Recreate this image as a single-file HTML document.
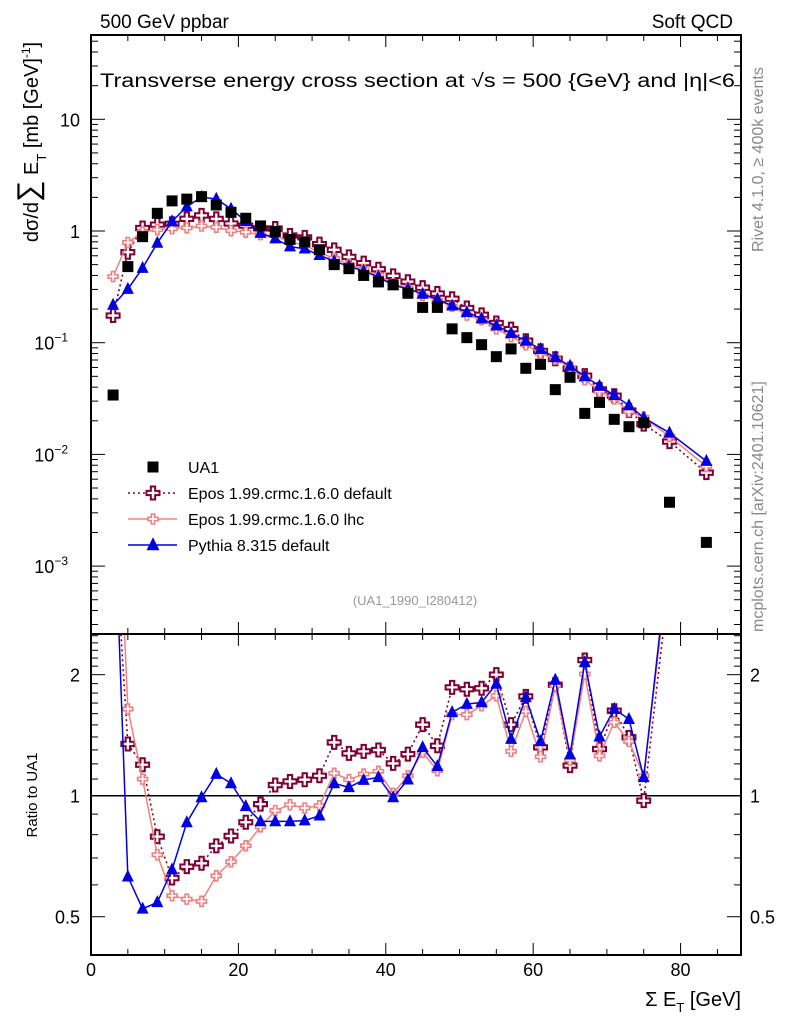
<!DOCTYPE html>
<html><head><meta charset="utf-8"><style>
html,body{margin:0;padding:0;background:#fff;}
svg{display:block;font-family:"Liberation Sans",sans-serif;}
</style></head><body>
<svg id="chart" width="786" height="1024" viewBox="0 0 786 1024" xmlns="http://www.w3.org/2000/svg">
<defs>
<clipPath id="clipMain"><rect x="91" y="35" width="650" height="599"/></clipPath>
<clipPath id="clipRatio"><rect x="91" y="634" width="650" height="321"/></clipPath>
</defs>
<text x="100" y="28" font-size="19">500 GeV ppbar</text>
<text x="733" y="28" font-size="19" text-anchor="end">Soft QCD</text>
<text x="100" y="87" font-size="19" textLength="635" lengthAdjust="spacingAndGlyphs">Transverse energy cross section at √s = 500 {GeV} and |η|&lt;6</text>
<text transform="translate(38,142) rotate(-90)" font-size="20" text-anchor="middle">dσ/d<tspan font-size="30">∑</tspan> E<tspan font-size="13" dy="8">T</tspan><tspan dy="-8"> [mb [GeV]</tspan><tspan font-size="12" dy="-8">-1</tspan><tspan dy="8">]</tspan></text>
<text transform="translate(763,252) rotate(-90)" font-size="16" fill="#888">Rivet 4.1.0, ≥ 400k events</text>
<text transform="translate(763,632) rotate(-90)" font-size="16" fill="#888">mcplots.cern.ch [arXiv:2401.10621]</text>
<text x="415" y="605" font-size="13" fill="#999" text-anchor="middle">(UA1_1990_I280412)</text>
<text transform="translate(37,795) rotate(-90)" font-size="15" text-anchor="middle">Ratio to UA1</text>
<text x="741" y="1006" font-size="20" text-anchor="end">Σ E<tspan font-size="13" dy="6">T</tspan><tspan dy="-6"> [GeV]</tspan></text>
<g id="axes"></g>
<g id="mainMarks" clip-path="url(#clipMain)"></g>
<g id="ratioMarks" clip-path="url(#clipRatio)"></g>
<g id="legend"></g>
<rect x="91" y="35" width="650" height="599" fill="none" stroke="#000" stroke-width="2"/>
<rect x="91" y="634" width="650" height="321" fill="none" stroke="#000" stroke-width="2"/>
</svg>
<script>
const xVals = [3,5,7,9,11,13,15,17,19,21,23,25,27,29,31,33,35,37,39,41,43,45,47,49,51,53,55,57,59,61,63,65,67,69,71,73,75,78.5,83.5];
const ua1 = [0.034,0.48,0.89,1.44,1.86,1.93,2.03,1.71,1.47,1.30,1.11,0.99,0.84,0.80,0.68,0.50,0.46,0.40,0.35,0.33,0.277,0.207,0.207,0.133,0.111,0.096,0.075,0.088,0.059,0.064,0.038,0.049,0.0233,0.0292,0.0206,0.0177,0.0192,0.00373,0.00163];
const ratioPythia = [6.4,0.629,0.523,0.543,0.655,0.858,0.99,1.132,1.073,0.941,0.863,0.863,0.863,0.867,0.892,1.073,1.049,1.094,1.111,0.99,1.096,1.319,1.183,1.612,1.69,1.707,1.896,1.383,1.757,1.365,1.94,1.265,2.146,1.402,1.643,1.55,1.111,4.18,5.34];
const ratioEposDef = [5.15,1.345,1.194,0.791,0.624,0.666,0.679,0.75,0.794,0.859,0.953,1.063,1.085,1.096,1.121,1.357,1.274,1.289,1.299,1.203,1.269,1.502,1.331,1.86,1.84,1.85,2.0,1.502,1.766,1.319,1.888,1.188,2.175,1.306,1.627,1.397,0.972,3.49,4.21];
const ratioEposLhc = [11.5,1.643,1.1,0.713,0.564,0.553,0.546,0.632,0.685,0.751,0.837,0.918,0.950,0.932,0.944,1.137,1.096,1.132,1.15,1.013,1.121,1.282,1.154,1.591,1.591,1.674,1.773,1.289,1.621,1.25,1.878,1.227,2.008,1.257,1.522,1.365,1.121,3.89,4.79];
const xTickLabels = ["0","20","40","60","80"];
const yMainTickLabels = ["10","1","10","10","10"];
const ratioTickLabels = ["2","1","0.5"];

const NS="http://www.w3.org/2000/svg";
function mk(tag,attrs,parent){const e=document.createElementNS(NS,tag);for(const k in attrs)e.setAttribute(k,attrs[k]);parent.appendChild(e);return e;}
const X0=91,X1=741,XMIN=0,XMAX=88.2;
function sx(v){return X0+(v-XMIN)/(XMAX-XMIN)*(X1-X0);}
function syMain(v){return 231-111.7*Math.log10(v);}
function syRatio(v){return 795.7-402*Math.log10(v);}

const axes=document.getElementById('axes');
for(let v=0;v<=85;v+=5){
  const major=v%20===0;const L=major?12:6;const x=sx(v);
  [[35,1],[634,-1],[634,1],[955,-1]].forEach(([y,d])=>{
    const t=mk('line',{x1:x,x2:x,y1:y,y2:y+d*L,stroke:'#000','stroke-width':1},axes);
    
    
  });
}
xTickLabels.forEach((lab,i)=>{
  const t=mk('text',{x:sx(i*20),y:976,'font-size':18,'text-anchor':'middle'},axes);
  t.textContent=lab;
  
  
});
for(let e=-4;e<=1;e++){
  for(let m=1;m<=9;m++){
    const v=m*Math.pow(10,e);const y=syMain(v);
    if(y<35||y>634)continue;
    const L=m===1?14:7;
    [[X0,1],[X1,-1]].forEach(([x,d])=>{
      const t=mk('line',{x1:x,x2:x+d*L,y1:y,y2:y,stroke:'#000','stroke-width':1},axes);
      
      
    });
  }
}
[1,0,-1,-2,-3].forEach((e,i)=>{
  const y=syMain(Math.pow(10,e));
  const t=mk('text',{x:80,y:y+7,'font-size':18,'text-anchor':'end'},axes);
  
  
  if(e>=0){t.textContent=yMainTickLabels[i];}
  else{
    t.setAttribute('x',68);
    t.textContent=yMainTickLabels[i];
    const s=mk('tspan',{'font-size':12,dy:-8},t);s.textContent="−"+(-e);
  }
});
for(let v=0.4;v<=2.55;v+=0.1){
  const vv=Math.round(v*10)/10;const y=syRatio(vv);
  if(y<634||y>955)continue;
  const major=(vv===0.5||vv===1||vv===2);const L=major?14:7;
  [[X0,1],[X1,-1]].forEach(([x,d])=>{
    const t=mk('line',{x1:x,x2:x+d*L,y1:y,y2:y,stroke:'#000','stroke-width':1},axes);
    
    
  });
}
[2,1,0.5].forEach((v,i)=>{
  const y=syRatio(v)+7;
  const a=mk('text',{x:80,y:y,'font-size':18,'text-anchor':'end'},axes);a.textContent=ratioTickLabels[i];
  
  
  const b=mk('text',{x:750,y:y,'font-size':18},axes);b.textContent=ratioTickLabels[i];
  
  
});
const one=mk('line',{x1:X0,x2:X1,y1:syRatio(1),y2:syRatio(1),stroke:'#000','stroke-width':1.5},axes);



function square(g,x,y,s){return mk('rect',{x:x-s/2,y:y-s/2,width:s,height:s,fill:'#000'},g);}
function tri(g,x,y,s,c){return mk('polygon',{points:`${x},${y-s*0.6} ${x-s/2},${y+s*0.4} ${x+s/2},${y+s*0.4}`,fill:c},g);}
function cross(g,x,y,s,c,w){const a=s/2,b=s/6;
  const p=`M${x-b},${y-a}H${x+b}V${y-b}H${x+a}V${y+b}H${x+b}V${y+a}H${x-b}V${y+b}H${x-a}V${y-b}H${x-b}Z`;
  return mk('path',{d:p,fill:'#fff',stroke:c,'stroke-width':w},g);}

const series=[
  {name:'epos-default',ratio:ratioEposDef,color:'#800033',dash:'2,3',marker:'cross',size:13,sw:2},
  {name:'epos-lhc',ratio:ratioEposLhc,color:'#f08080',dash:null,marker:'cross',size:10,sw:1.6},
  {name:'pythia',ratio:ratioPythia,color:'#0000e0',dash:null,marker:'tri',size:12,sw:0}
];
const gm=document.getElementById('mainMarks'),gr=document.getElementById('ratioMarks');
series.forEach(s=>{
  const mainPts=xVals.map((x,i)=>[sx(x),syMain(s.ratio[i]*ua1[i])]);
  const ratioPts=xVals.map((x,i)=>[sx(x),syRatio(s.ratio[i])]);
  [[gm,mainPts,'main'],[gr,ratioPts,'ratio']].forEach(([g,pts,pn])=>{
    const attrs={points:pts.map(p=>p.join(',')).join(' '),fill:'none',stroke:s.color,'stroke-width':s.dash?1.6:1.5};
    if(s.dash)attrs['stroke-dasharray']=s.dash;
    const l=mk('polyline',attrs,g);
    
    
    pts.forEach(p=>{
      const m=s.marker==='tri'?tri(g,p[0],p[1],s.size,s.color):cross(g,p[0],p[1],s.size,s.color,s.sw);
      
      
    });
  });
});
xVals.forEach((x,i)=>{
  const m=square(gm,sx(x),syMain(ua1[i]),11);
  
  
});

const lg=document.getElementById('legend');
const legendItems=[['UA1','ua1'],['Epos 1.99.crmc.1.6.0 default','epos-default'],['Epos 1.99.crmc.1.6.0 lhc','epos-lhc'],['Pythia 8.315 default','pythia']];
legendItems.forEach((it,i)=>{
  const y=467+i*26;
  const g=mk('g',{},lg);
  
  
  if(i===0){square(g,153,y,11);}
  else{
    const s=series[i-1];
    const a={x1:128,x2:177,y1:y,y2:y,stroke:s.color,'stroke-width':1.5};
    if(s.dash)a['stroke-dasharray']=s.dash;
    mk('line',a,g);
    if(s.marker==='tri')tri(g,153,y,13,s.color);else cross(g,153,y,s.size,s.color,s.sw);
  }
  const t=mk('text',{x:188,y:y+6,'font-size':16},g);t.textContent=it[0];
});
</script>
</body></html>
